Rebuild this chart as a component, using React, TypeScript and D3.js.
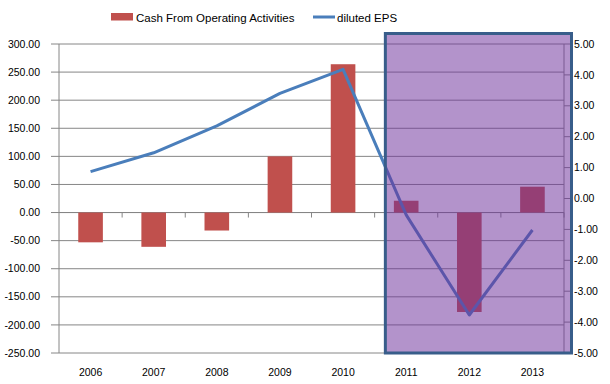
import React from 'react';
import * as d3 from 'd3';

const years = ['2006', '2007', '2008', '2009', '2010', '2011', '2012', '2013'];
const cashFromOps = [-53, -61, -32, 100, 264, 21, -177, 46];
const dilutedEps = [0.87, 1.48, 2.35, 3.4, 4.18, -0.53, -3.77, -1.02];
const leftTicks = [300, 250, 200, 150, 100, 50, 0, -50, -100, -150, -200, -250];
const rightTicks = [5, 4, 3, 2, 1, 0, -1, -2, -3, -4, -5];
const highlighted = ['2011', '2012', '2013'];

const W = 610;
const H = 384;
const font = '"Liberation Sans", Arial, sans-serif';

export default function App() {
  const plot = { left: 59, right: 564, top: 44, bottom: 353 };

  const x = d3.scaleBand<string>().domain(years).range([plot.left, plot.right]).padding(0);
  const barW = x.bandwidth() * 0.39;

  const yL = d3.scaleLinear().domain([-250, 300]).range([plot.bottom, plot.top]);
  const yR = d3.scaleLinear().domain([-5, 5]).range([plot.bottom, plot.top]);

  const line = d3
    .line<number>()
    .x((_, i) => (x(years[i]) as number) + x.bandwidth() / 2)
    .y(d => yR(d));

  // highlight box over the last years
  const hx0 = (x(highlighted[0]) as number) + x.bandwidth() * 0.17;
  const hx1 = plot.right + 7.5;
  const hy0 = yL(300) - 10.5;
  const hy1 = yL(-250);

  return (
    <svg
      width={W}
      height={H}
      style={{ position: 'fixed', left: 0, top: 0, background: '#fff' }}
      fontFamily={font}
    >
      {/* gridlines */}
      {leftTicks.map(t => (
        <line key={t} x1={plot.left - 8} x2={plot.right} y1={yL(t)} y2={yL(t)} stroke="#868686" strokeWidth={1} />
      ))}

      {/* left axis */}
      <line x1={plot.left} x2={plot.left} y1={plot.top} y2={plot.bottom} stroke="#868686" />
      {leftTicks.map(t => (
        <text key={t} x={40} y={yL(t)} dy="0.35em" textAnchor="end" fontSize={10.5} fill="#000">
          {t.toFixed(2)}
        </text>
      ))}

      {/* right axis */}
      <line x1={plot.right} x2={plot.right} y1={plot.top} y2={plot.bottom} stroke="#868686" />
      {rightTicks.map(t => (
        <g key={t}>
          <line x1={plot.right} x2={plot.right + 6} y1={yR(t)} y2={yR(t)} stroke="#868686" />
          <text x={574} y={yR(t)} dy="0.35em" fontSize={10.5} fill="#000">
            {t.toFixed(2)}
          </text>
        </g>
      ))}

      {/* category axis at zero */}
      <line x1={plot.left} x2={plot.right} y1={yL(0)} y2={yL(0)} stroke="#868686" />
      {years.map(yr => (
        <line
          key={yr}
          x1={(x(yr) as number) + x.bandwidth()}
          x2={(x(yr) as number) + x.bandwidth()}
          y1={yL(0)}
          y2={yL(0) + 5}
          stroke="#868686"
        />
      ))}
      {years.map(yr => (
        <text key={yr} x={(x(yr) as number) + x.bandwidth() / 2} y={376} textAnchor="middle" fontSize={10.5} fill="#000">
          {yr}
        </text>
      ))}

      {/* bars */}
      {cashFromOps.map((v, i) => (
        <rect
          key={years[i]}
          x={(x(years[i]) as number) + (x.bandwidth() - barW) / 2}
          y={yL(Math.max(0, v))}
          width={barW}
          height={Math.abs(yL(v) - yL(0))}
          fill="#c0504d"
        />
      ))}

      {/* EPS line */}
      <path d={line(dilutedEps) ?? ''} fill="none" stroke="#4a7ebb" strokeWidth={3} strokeLinejoin="round" />

      {/* highlight overlay */}
      <rect
        x={hx0}
        y={hy0}
        width={hx1 - hx0}
        height={hy1 - hy0}
        fill="#6d2f9b"
        fillOpacity={0.52}
        stroke="#385d8a"
        strokeWidth={3}
      />

      {/* legend */}
      <rect x={111} y={13} width={22} height={7.5} fill="#c0504d" />
      <text x={136} y={21.5} fontSize={11.5} fill="#000">
        Cash From Operating Activities
      </text>
      <line x1={313} x2={335} y1={17} y2={17} stroke="#4a7ebb" strokeWidth={3} />
      <text x={337} y={21.5} fontSize={11.5} fill="#000">
        diluted EPS
      </text>
    </svg>
  );
}
